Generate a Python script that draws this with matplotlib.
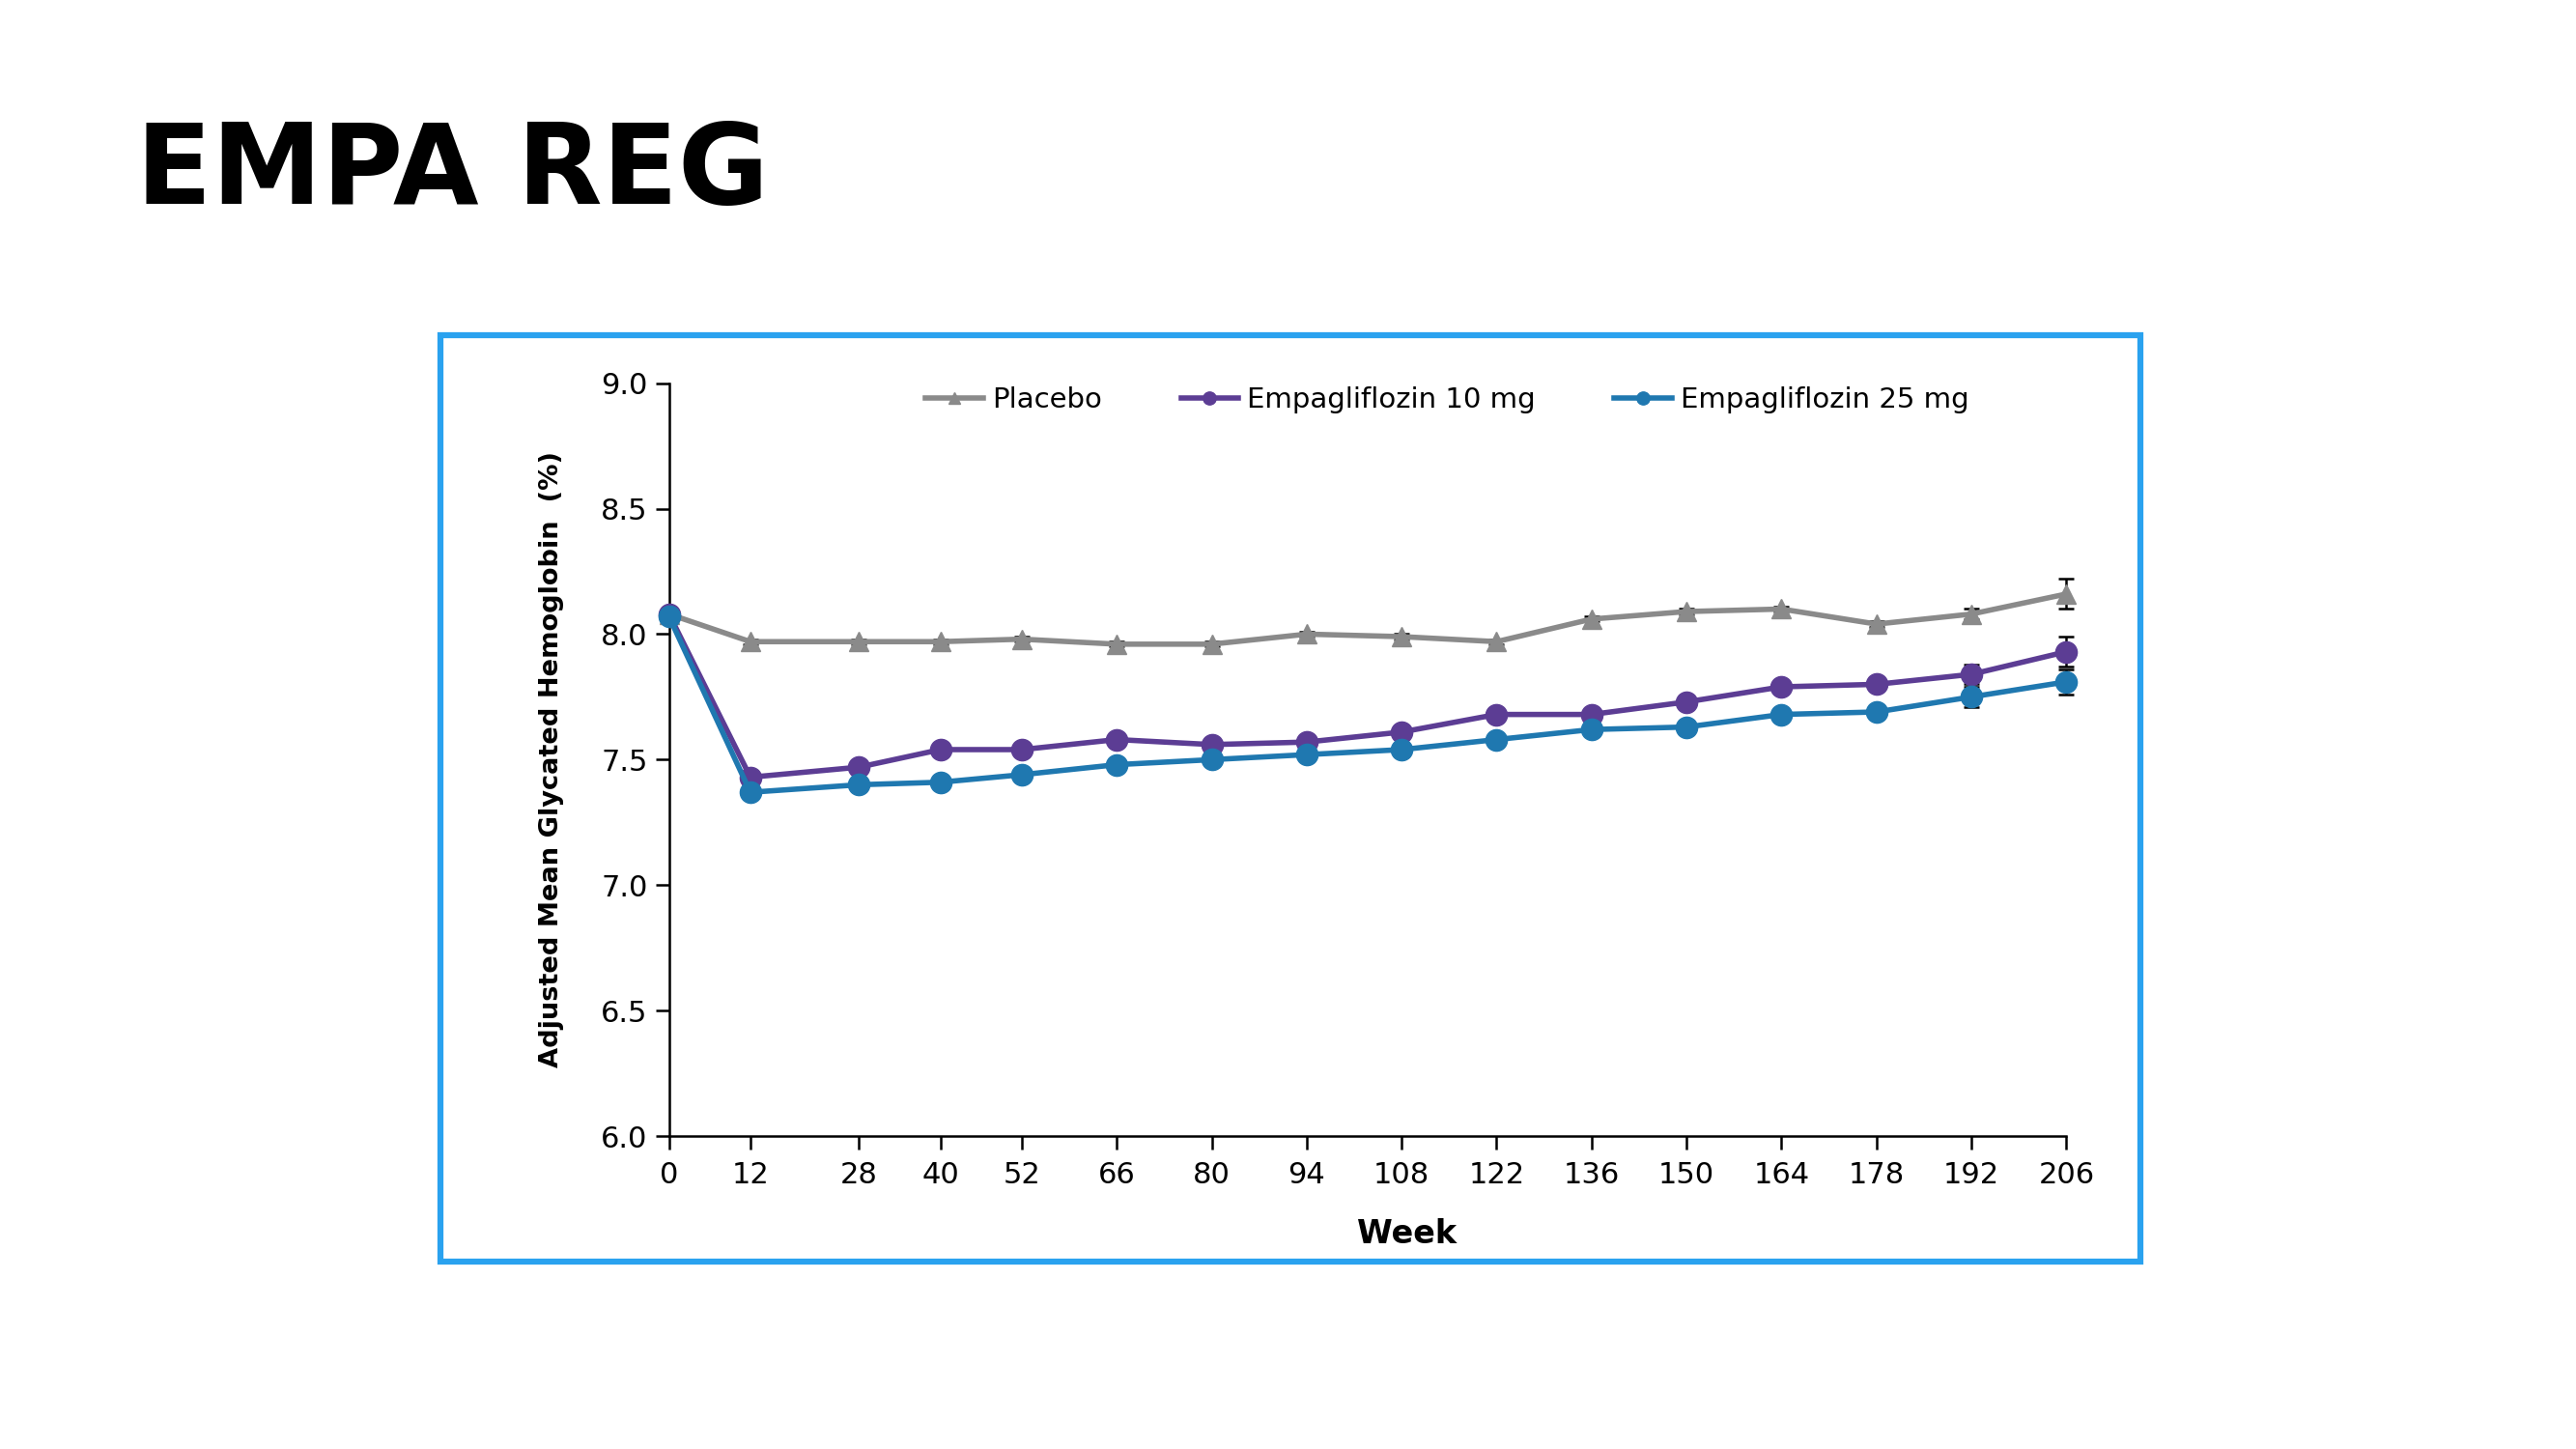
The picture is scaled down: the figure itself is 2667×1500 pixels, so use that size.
import matplotlib
matplotlib.use('Agg')
import matplotlib.pyplot as plt
import matplotlib.patches as patches

# data
weeks = [0, 12, 28, 40, 52, 66, 80, 94, 108, 122, 136, 150, 164, 178, 192, 206]
placebo = [8.08, 7.97, 7.97, 7.97, 7.98, 7.96, 7.96, 8.00, 7.99, 7.97, 8.06, 8.09, 8.10, 8.04, 8.08, 8.16]
empa10 = [8.08, 7.43, 7.47, 7.54, 7.54, 7.58, 7.56, 7.57, 7.61, 7.68, 7.68, 7.73, 7.79, 7.80, 7.84, 7.93]
empa25 = [8.07, 7.37, 7.40, 7.41, 7.44, 7.48, 7.50, 7.52, 7.54, 7.58, 7.62, 7.63, 7.68, 7.69, 7.75, 7.81]
placebo_err = [0.01, 0.01, 0.01, 0.01, 0.01, 0.01, 0.01, 0.01, 0.01, 0.01, 0.01, 0.01, 0.01, 0.01, 0.02, 0.06]
empa10_err = [0.01, 0.01, 0.01, 0.01, 0.01, 0.01, 0.01, 0.01, 0.01, 0.01, 0.01, 0.01, 0.02, 0.02, 0.04, 0.06]
empa25_err = [0.01, 0.01, 0.01, 0.01, 0.01, 0.01, 0.01, 0.01, 0.01, 0.01, 0.01, 0.01, 0.02, 0.02, 0.04, 0.05]
y_ticks = [6.0, 6.5, 7.0, 7.5, 8.0, 8.5, 9.0]

narrow = ['Liberation Sans Narrow', 'DejaVu Sans']

fig = plt.figure(figsize=(26.67, 15), dpi=100)
fig.patch.set_facecolor('white')

# title
fig.text(0.053, 0.8805, 'EMPA REG', fontsize=82.5, fontweight='bold',
         family='DejaVu Sans', ha='left', va='center')

# blue frame around the pasted chart
frame = patches.Rectangle((0.171, 0.1293), 0.6598, 0.6394, transform=fig.transFigure,
                          fill=False, edgecolor='#2aa2ef', linewidth=4.5)
fig.patches.append(frame)

ax = fig.add_axes([0.2597, 0.2159, 0.5425, 0.5197])

series = [
    ('Placebo', placebo, placebo_err, '#8a8a8a', '^', 14),
    ('Empagliflozin 10 mg', empa10, empa10_err, '#5c3d94', 'o', 16),
    ('Empagliflozin 25 mg', empa25, empa25_err, '#1f78b0', 'o', 16),
]
for label, vals, err, col, mk, ms in series:
    ax.errorbar(weeks, vals, yerr=err, color=col, ecolor='black', elinewidth=1.8,
                capsize=6, capthick=1.8, linewidth=4, marker=mk, markersize=ms,
                label=label, clip_on=False, zorder=3)

ax.set_xlim(0, 206)
ax.set_ylim(6.0, 9.0)
ax.set_xticks(weeks)
ax.set_xticklabels([str(w) for w in weeks], family=narrow, fontsize=22)
ax.set_yticks(y_ticks)
ax.set_yticklabels(['%.1f' % v for v in y_ticks], family=narrow, fontsize=22)
ax.tick_params(axis='both', length=10, width=1.8, direction='out', pad=6)
ax.tick_params(axis='x', pad=8.5)
for s in ['top', 'right']:
    ax.spines[s].set_visible(False)
for s in ['left', 'bottom']:
    ax.spines[s].set_linewidth(1.8)

ax.set_xlabel('Week', family=narrow, fontsize=24, fontweight='bold', labelpad=22)
ax.xaxis.label.set_x(0.528)
ax.set_ylabel('Adjusted Mean Glycated Hemoglobin  (%)', family='DejaVu Sans',
              fontsize=19.6, fontweight='bold', labelpad=27)

handles, labels = ax.get_legend_handles_labels()
handles = [h[0] for h in handles]
leg = ax.legend(handles, labels, loc='center', bbox_to_anchor=(0.557, 0.978), ncol=3,
                frameon=False, prop={'family': narrow, 'size': 21},
                handlelength=2.05, handletextpad=0.3, columnspacing=2.8, markerscale=0.6)

fig.savefig('out.png', dpi=100, facecolor='white')
